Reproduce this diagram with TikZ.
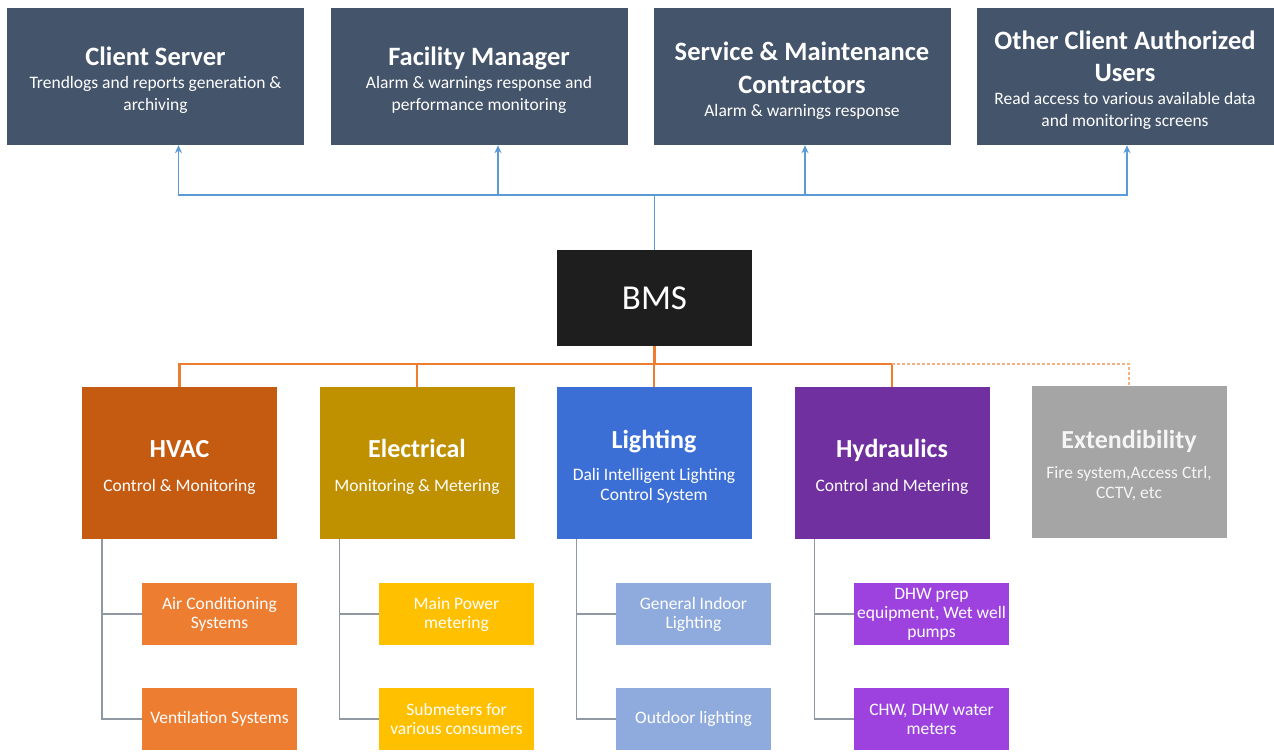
\documentclass[tikz,border=0pt]{standalone}
\usepackage{fontspec}
\setmainfont{Carlito}
\usetikzlibrary{arrows.meta}

\definecolor{navy}{HTML}{44546A}
\definecolor{bmsblack}{HTML}{1E1E1E}
\definecolor{hvaccol}{HTML}{C55A11}
\definecolor{eleccol}{HTML}{BF9000}
\definecolor{lightcol}{HTML}{3C6FD6}
\definecolor{hydcol}{HTML}{7030A0}
\definecolor{extcol}{HTML}{A5A5A5}
\definecolor{hvacsub}{HTML}{ED7D31}
\definecolor{elecsub}{HTML}{FFC000}
\definecolor{lightsub}{HTML}{8FAADC}
\definecolor{hydsub}{HTML}{9D42DE}
\definecolor{linkblue}{HTML}{5B9BD5}
\definecolor{busorange}{HTML}{ED7D31}
\definecolor{treegray}{HTML}{9098A4}

% titles, with a strut that pushes the text a little down in its box
\newcommand{\boxtitle}[1]{{\fontsize{26.5}{30}\selectfont\bfseries #1}}
\newcommand{\cattitle}[1]{{\fontsize{26}{30}\selectfont\bfseries #1}}
\newcommand{\topstrut}{\rule{0pt}{26pt}}
\newcommand{\catstrut}{\rule{0pt}{25.5pt}}

\begin{document}
\begin{tikzpicture}[x=1pt,y=-1pt]

        \tikzset{
            box/.style={text=white, align=center, inner sep=0pt},
            topbox/.style={box, fill=navy, minimum width=297, minimum height=137,
                font=\fontsize{17.5}{22}\selectfont},
            bmsbox/.style={box, fill=bmsblack, minimum width=195, minimum height=96,
                font=\fontsize{35}{40}\selectfont},
            catbox/.style={box, minimum width=195, minimum height=152,
                font=\fontsize{17.5}{19.5}\selectfont},
            subbox/.style={box, minimum width=155, minimum height=62,
                font=\fontsize{17.5}{19}\selectfont},
            link/.style={linkblue, line width=1.5pt},
            linkarr/.style={link, -{Stealth[length=8pt,width=7pt]}},
            bus/.style={busorange, line width=2.5pt},
            busdot/.style={busorange!60, line width=1.5pt, dash pattern=on 3pt off 2pt},
            tree/.style={treegray, line width=1.5pt}
        }

        \useasboundingbox (0,0) rectangle (1274,753);

        % users of the BMS
        \node[topbox] (cs) at (155.5,76.5)
        {\topstrut\boxtitle{Client Server}\\[1pt] Trendlogs and reports generation \&\\ archiving};
        \node[topbox] (fm) at (479,76.5)
        {\topstrut\boxtitle{Facility Manager}\\[1pt] Alarm \& warnings response and\\ performance monitoring};
        \node[topbox] (sm) at (802,76.5)
        {\topstrut\boxtitle{Service \& Maintenance}\\[11pt] \boxtitle{Contractors}\\[1pt] Alarm \& warnings response};
        \node[topbox] (oc) at (1125,76.5)
        {\topstrut\boxtitle{Other Client Authorized}\\[10pt] \boxtitle{Users}\\[1pt] Read access to various available data\\ and monitoring screens};

        \node[bmsbox] (bms) at (654.5,298) {BMS};

        % systems
        \node[catbox, fill=hvaccol] (hvac) at (179.5,463)
        {\catstrut\cattitle{HVAC}\\[14pt] Control \& Monitoring};
        \node[catbox, fill=eleccol] (elec) at (417,463)
        {\catstrut\cattitle{Electrical}\\[14pt] Monitoring \& Metering};
        \node[catbox, fill=lightcol] (light) at (654,463)
        {\catstrut\cattitle{Lighting}\\[13pt] Dali Intelligent Lighting\\ Control System};
        \node[catbox, fill=hydcol] (hyd) at (892,463)
        {\catstrut\cattitle{Hydraulics}\\[14pt] Control and Metering};
        \node[catbox, fill=extcol, text=white!92!gray] (ext) at (1129,461.5)
        {\catstrut\cattitle{Extendibility}\\[11pt] Fire system,Access Ctrl,\\ CCTV, etc};

        % sub systems
        \node[subbox, fill=hvacsub] (ac) at (219.5,614) {Air Conditioning\\ Systems};
        \node[subbox, fill=hvacsub] (vent) at (219.5,719) {Ventilation Systems};
        \node[subbox, fill=elecsub] (mp) at (456.5,614) {Main Power\\ metering};
        \node[subbox, fill=elecsub] (subm) at (456.5,719) {Submeters for\\ various consumers};
        \node[subbox, fill=lightsub] (gil) at (693.5,614) {General Indoor\\ Lighting};
        \node[subbox, fill=lightsub] (odl) at (693.5,719) {Outdoor lighting};
        \node[subbox, fill=hydsub] (dhw) at (931.5,614) {DHW prep\\ equipment, Wet well\\ pumps};
        \node[subbox, fill=hydsub] (chw) at (931.5,719) {CHW, DHW water\\ meters};

        % BMS to users
        \coordinate (hub) at (654.5,195);
        \draw[link] (bms.north) -- (hub);
        \foreach \n/\dx in {cs/23, fm/19, sm/3, oc/2}
        \draw[linkarr] (hub) -| ([xshift=\dx]\n.south);

        % BMS to systems
        \coordinate (obus) at (654.5,364);
        \draw[bus] (bms.south) -- (obus);
        \foreach \n in {hvac,elec,light,hyd}
        \draw[bus] (obus) -| (\n.north);
        \draw[busdot] (hyd.north |- obus) -| (ext.north);

        % systems to sub systems
        \foreach \c/\a/\b in {hvac/ac/vent, elec/mp/subm, light/gil/odl, hyd/dhw/chw}{
            \draw[tree] ([xshift=20]\c.south west) |- (\a.west);
            \draw[tree] ([xshift=20]\c.south west) |- (\b.west);
        }

    \end{tikzpicture}
\end{document}
